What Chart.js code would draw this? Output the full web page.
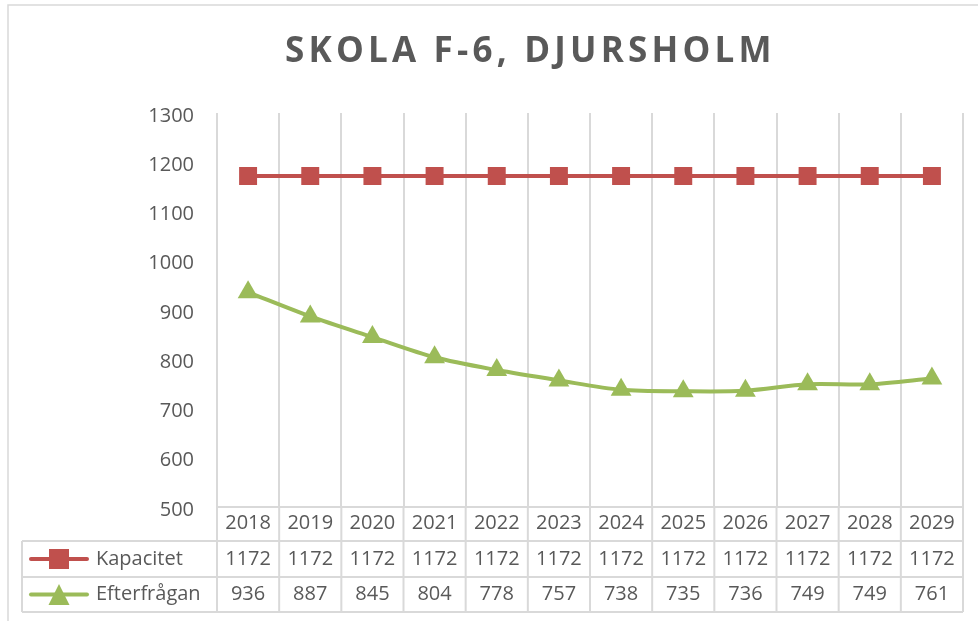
<!DOCTYPE html>
<html>
<head>
<meta charset="utf-8">
<script src="https://cdn.jsdelivr.net/npm/chart.js@4"></script>
<style>
html,body{margin:0;padding:0;background:#fff;}
#wrap{position:relative;width:978px;height:621px;}
</style>
</head>
<body>
<div id="wrap"><canvas id="c" width="978" height="621"></canvas></div>
<script>
const titleText = 'SKOLA F-6, DJURSHOLM';
const years = ['2018','2019','2020','2021','2022','2023','2024','2025','2026','2027','2028','2029'];
const kapacitet = [1172,1172,1172,1172,1172,1172,1172,1172,1172,1172,1172,1172];
const efterfragan = [936,887,845,804,778,757,738,735,736,749,749,761];
const seriesNames = ['Kapacitet','Efterfrågan'];
const yTicks = {min:500, max:1300, step:100};

const RED = '#C0504D', GREEN = '#9BBB59', TXT = '#595959', GRID = '#D9D9D9';
const FONT = '"Open Sans", "DejaVu Sans", sans-serif';

const framePlugin = {
  id: 'frame',
  beforeDraw(chart) {
    const ctx = chart.ctx;
    ctx.save();
    ctx.fillStyle = '#fff';
    ctx.fillRect(0,0,chart.width,chart.height);
    ctx.strokeStyle = GRID;
    ctx.lineWidth = 1.5;
    ctx.beginPath();
    ctx.moveTo(8, chart.height);
    ctx.lineTo(8, 5);
    ctx.lineTo(chart.width, 5);
    ctx.stroke();
    // title
    ctx.fillStyle = TXT;
    ctx.font = 'bold 35px ' + FONT;
    try { ctx.letterSpacing = '4.2px'; } catch(e) {}
    ctx.textAlign = 'left';
    ctx.textBaseline = 'alphabetic';
    ctx.fillText(titleText, 285, 62);
    try { ctx.letterSpacing = '0px'; } catch(e) {}
    ctx.restore();
  }
};

function drawMarker(ctx, style, x, y, size, color) {
  ctx.fillStyle = color;
  ctx.beginPath();
  if (style === 'rect') {
    ctx.rect(x - size/2, y - size/2, size, size);
  } else {
    ctx.moveTo(x, y - size/2);
    ctx.lineTo(x + size/2, y + size/2);
    ctx.lineTo(x - size/2, y + size/2);
    ctx.closePath();
  }
  ctx.fill();
}

const tablePlugin = {
  id: 'dataTable',
  afterDraw(chart) {
    const ctx = chart.ctx;
    const xs = chart.scales.x;
    const area = chart.chartArea;
    const half = (xs.getPixelForValue(1) - xs.getPixelForValue(0)) / 2;
    const top = area.bottom;
    const r1 = 541, r2 = 577, bottom = 612, leftX = 22;
    ctx.save();
    ctx.strokeStyle = GRID;
    ctx.lineWidth = 2;
    ctx.beginPath();
    for (let i = 0; i <= years.length; i++) {
      const x = i < years.length ? xs.getPixelForValue(i) - half : xs.getPixelForValue(years.length - 1) + half;
      ctx.moveTo(x, top);
      ctx.lineTo(x, bottom);
    }
    ctx.moveTo(area.left, top); ctx.lineTo(area.right, top);
    ctx.moveTo(leftX, r1); ctx.lineTo(area.right, r1);
    ctx.moveTo(leftX, r2); ctx.lineTo(area.right, r2);
    ctx.moveTo(leftX, bottom); ctx.lineTo(area.right, bottom);
    ctx.moveTo(leftX, r1); ctx.lineTo(leftX, bottom);
    ctx.stroke();

    ctx.fillStyle = TXT;
    ctx.font = '20px ' + FONT;
    ctx.textAlign = 'center';
    ctx.textBaseline = 'middle';
    const rowsY = [ (top + r1)/2 - 1, (r1 + r2)/2 , (r2 + bottom)/2 ];
    years.forEach((yr, i) => {
      const x = xs.getPixelForValue(i);
      ctx.fillText(yr, x, rowsY[0]);
      ctx.fillText(String(kapacitet[i]), x, rowsY[1]);
      ctx.fillText(String(efterfragan[i]), x, rowsY[2]);
    });
    // legend keys
    const keys = [
      {name: seriesNames[0], color: RED, style: 'rect', y: rowsY[1]},
      {name: seriesNames[1], color: GREEN, style: 'triangle', y: rowsY[2]}
    ];
    keys.forEach(k => {
      ctx.strokeStyle = k.color;
      ctx.lineWidth = 4;
      ctx.lineCap = 'round';
      ctx.beginPath();
      ctx.moveTo(31, k.y); ctx.lineTo(87, k.y);
      ctx.stroke();
      drawMarker(ctx, k.style, 59, k.y, k.style === 'rect' ? 20 : 21, k.color);
      ctx.fillStyle = TXT;
      ctx.textAlign = 'left';
      ctx.fillText(k.name, 96, k.y);
    });
    ctx.restore();
  }
};

new Chart(document.getElementById('c'), {
  type: 'line',
  data: {
    labels: years,
    datasets: [
      {
        label: seriesNames[0],
        data: kapacitet,
        borderColor: RED,
        backgroundColor: RED,
        borderWidth: 4,
        pointStyle: 'rect',
        pointRadius: 12.7,
        pointHoverRadius: 12.7,
        pointBorderWidth: 0,
        tension: 0
      },
      {
        label: seriesNames[1],
        data: efterfragan,
        borderColor: GREEN,
        backgroundColor: GREEN,
        borderWidth: 4,
        pointStyle: 'triangle',
        pointRadius: 12,
        pointHoverRadius: 12,
        pointBorderWidth: 0,
        tension: 0.3
      }
    ]
  },
  options: {
    responsive: false,
    animation: false,
    events: [],
    layout: { padding: { top: 113, right: 15, left: 0, bottom: 0 } },
    plugins: {
      legend: { display: false },
      title: { display: false },
      tooltip: { enabled: false }
    },
    scales: {
      x: {
        offset: true,
        grid: { display: true, offset: true, color: GRID, lineWidth: 2, drawTicks: false },
        border: { display: false },
        ticks: { display: false },
        afterFit(s) { s.height = 114; }
      },
      y: {
        min: yTicks.min,
        max: yTicks.max,
        grid: { display: false, drawTicks: false },
        border: { display: false },
        ticks: {
          stepSize: yTicks.step,
          color: TXT,
          font: { family: FONT, size: 20 },
          padding: 23,
          labelOffset: 3,
          callback: v => String(v)
        },
        afterFit(s) { s.width = 217; }
      }
    }
  },
  plugins: [framePlugin, tablePlugin]
});
</script>
</body>
</html>
